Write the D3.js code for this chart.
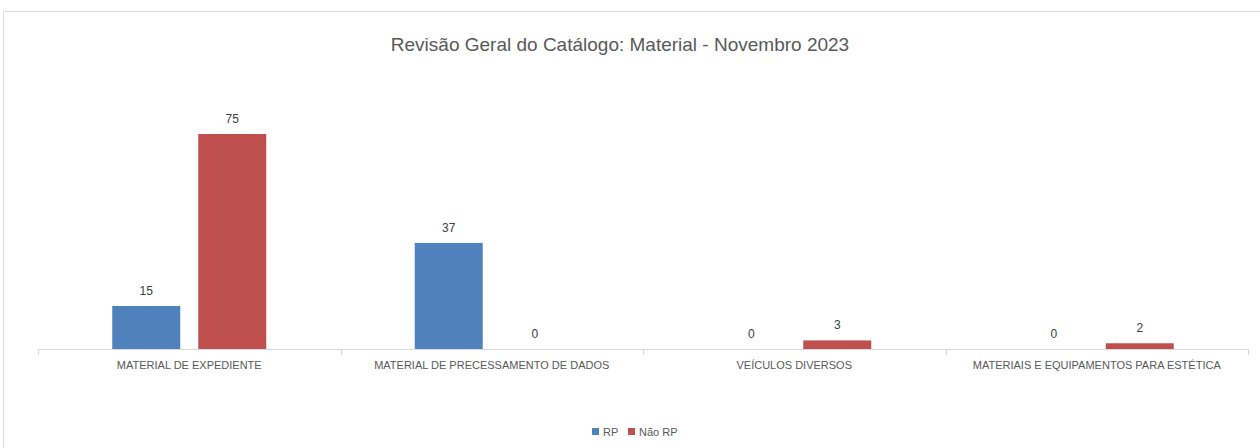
<!DOCTYPE html>
<html><head><meta charset="utf-8">
<script src="https://cdn.jsdelivr.net/npm/d3@7"></script>
<style>
html,body{margin:0;padding:0;background:#fff;}
svg{display:block;font-family:"Liberation Sans",sans-serif;}
</style></head><body>
<script>
const categories = ["MATERIAL DE EXPEDIENTE","MATERIAL DE PRECESSAMENTO DE DADOS","VEÍCULOS DIVERSOS","MATERIAIS E EQUIPAMENTOS PARA ESTÉTICA"];
const seriesNames = ["RP","Não RP"];
const rpValues = [15, 37, 0, 0];
const naoRpValues = [75, 0, 3, 2];
const colors = ["#4f81bd","#c0504d"];
const title = "Revisão Geral do Catálogo: Material - Novembro 2023";

const W = 1260, H = 448;
const svg = d3.select("body").append("svg").attr("width", W).attr("height", H);

// outer chart border (top and left visible)
svg.append("line").attr("x1",3.5).attr("x2",W).attr("y1",11.5).attr("y2",11.5).attr("stroke","#d9d9d9");
svg.append("line").attr("x1",3.5).attr("x2",3.5).attr("y1",11.5).attr("y2",H).attr("stroke","#d9d9d9");

const x0 = d3.scaleBand().domain(categories).range([38, 1248]).paddingInner(0).paddingOuter(0);
const x1 = d3.scaleBand().domain(seriesNames)
  .range([x0.bandwidth()/2 - 77, x0.bandwidth()/2 + 77]).paddingInner(18/86).paddingOuter(0);
const y = d3.scaleLinear().domain([0, 75]).range([349, 134]);

svg.append("text").attr("x", 620).attr("y", 51).attr("text-anchor","middle")
  .attr("font-size", 19).attr("fill","#595959").text(title);

const data = categories.map((c,i)=>({cat:c, vals:[{s:"RP",v:rpValues[i]},{s:"Não RP",v:naoRpValues[i]}]}));

const g = svg.append("g").selectAll("g").data(data).join("g")
  .attr("transform", d=>`translate(${x0(d.cat)},0)`);
g.selectAll("rect").data(d=>d.vals).join("rect")
  .attr("x", d=>x1(d.s)).attr("width", x1.bandwidth())
  .attr("y", d=>y(d.v)).attr("height", d=>y(0)-y(d.v))
  .attr("fill", (d,i)=>colors[i]);
g.selectAll("text.val").data(d=>d.vals).join("text").attr("class","val")
  .attr("x", d=>x1(d.s)+x1.bandwidth()/2).attr("y", d=>y(d.v)-11)
  .attr("text-anchor","middle").attr("font-size",12).attr("fill","#404040").text(d=>d.v);

// axis
const ax = svg.append("g").attr("transform","translate(0,349)")
  .call(d3.axisBottom(x0).tickSize(0).tickPadding(12));
ax.select(".domain").attr("stroke","#d9d9d9").attr("d","M38.5,0.5H1248.5");
ax.selectAll("text").attr("font-size",11).attr("fill","#595959").attr("font-family","inherit");
// boundary ticks
const bounds = categories.map(c=>x0(c)).concat([x0.range()[1]]);
svg.append("g").selectAll("line").data(bounds).join("line")
  .attr("x1",d=>Math.round(d)+0.5).attr("x2",d=>Math.round(d)+0.5).attr("y1",349).attr("y2",355)
  .attr("stroke","#d9d9d9");

// legend
const leg = svg.append("g").attr("transform","translate(592,432)");
const items = [{n:"RP",x:0},{n:"Não RP",x:36}];
items.forEach((it,i)=>{
  leg.append("rect").attr("x",it.x).attr("y",-4).attr("width",7).attr("height",7).attr("fill",colors[i]);
  leg.append("text").attr("x",it.x+11).attr("y",4).attr("font-size",11).attr("fill","#595959").text(it.n);
});
</script>
</body></html>
